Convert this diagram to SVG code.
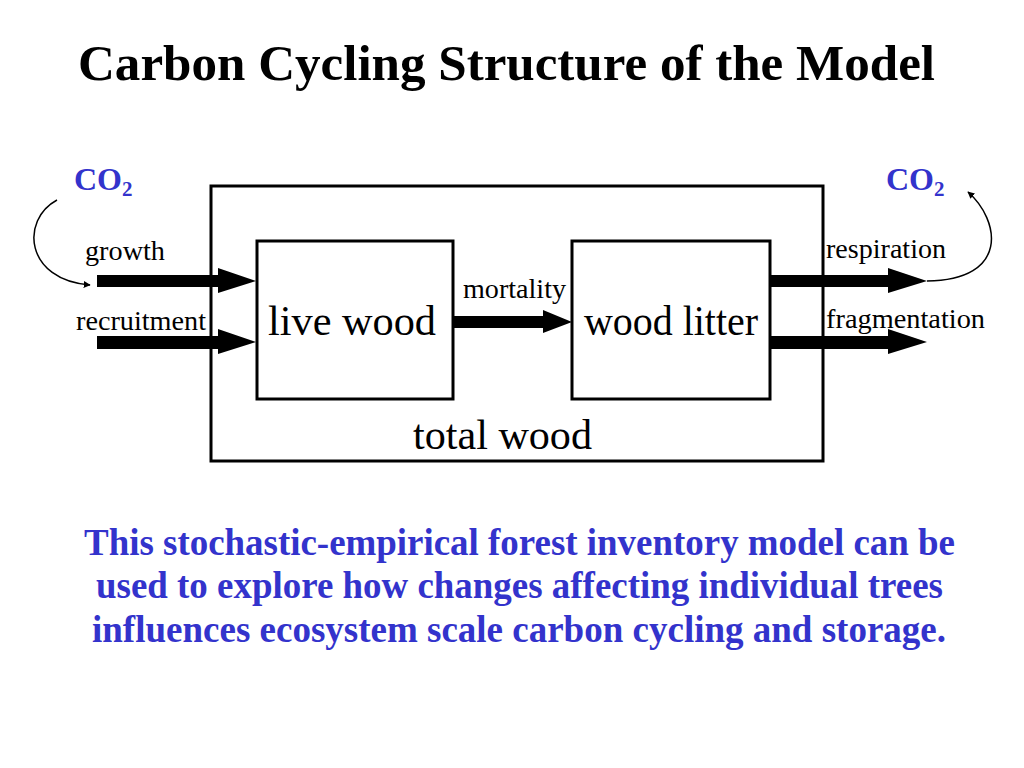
<svg xmlns="http://www.w3.org/2000/svg" width="1024" height="768" viewBox="0 0 1024 768">
<defs>
<style>
text{font-family:'Liberation Serif','Times New Roman',Times,serif}
.t{fill:#000}
.b{font-weight:bold;fill:#3333cc}
.box{fill:none;stroke:#000;stroke-width:3}
.fat{fill:#000;stroke:none}
.thin{fill:none;stroke:#000;stroke-width:1.5}
</style>
<marker id="ah" viewBox="0 0 10 10" refX="9" refY="5" markerWidth="7" markerHeight="7" markerUnits="userSpaceOnUse" orient="auto">
<path d="M0,0 L10,5 L0,10 Z" fill="#000"/>
</marker>
</defs>
<rect width="1024" height="768" fill="#fff"/>
<text class="t" x="78" y="80" font-size="51" font-weight="bold" textLength="857" lengthAdjust="spacingAndGlyphs">Carbon Cycling Structure of the Model</text>

<g id="total-wood">
<rect class="box" x="211" y="186" width="612" height="275"/>
<text class="t" x="413" y="449" font-size="42" textLength="179" lengthAdjust="spacingAndGlyphs">total wood</text>
</g>
<g id="live-wood">
<rect class="box" x="257" y="241" width="196" height="158"/>
<text class="t" x="268" y="335" font-size="42" textLength="168" lengthAdjust="spacingAndGlyphs">live wood</text>
</g>
<g id="wood-litter">
<rect class="box" x="572" y="241" width="198" height="158"/>
<text class="t" x="584" y="335" font-size="42" textLength="174" lengthAdjust="spacingAndGlyphs">wood litter</text>
</g>
<g id="co2-left">
<text class="b" x="74" y="190" font-size="32">CO<tspan font-size="21" dy="6">2</tspan></text>
</g>
<g id="co2-right">
<text class="b" x="886" y="190" font-size="32">CO<tspan font-size="21" dy="6">2</tspan></text>
</g>

<g id="connectors">
<polygon class="fat" points="97,275 218,275 218,268 256,281 218,293 218,287 97,287"/>
<polygon class="fat" points="97,336 218,336 218,329 256,342 218,354 218,349 97,349"/>
<polygon class="fat" points="453,316 543,316 543,310 572,322 543,333 543,328 453,328"/>
<polygon class="fat" points="770,275 888,275 888,268 927,281 888,293 888,287 770,287"/>
<polygon class="fat" points="770,336 888,336 888,329 927,342 888,354 888,349 770,349"/>
<path class="thin" d="M57,200 C20,220 25,280 90,285" marker-end="url(#ah)"/>
<path class="thin" d="M927,281 C1010,280 1000,220 968,192" marker-end="url(#ah)"/>
<text class="t" x="85" y="260" font-size="27" textLength="80" lengthAdjust="spacingAndGlyphs">growth</text>
<text class="t" x="76" y="330" font-size="27" textLength="130" lengthAdjust="spacingAndGlyphs">recruitment</text>
<text class="t" x="463" y="298" font-size="27" textLength="103" lengthAdjust="spacingAndGlyphs">mortality</text>
<text class="t" x="826" y="258" font-size="27" textLength="120" lengthAdjust="spacingAndGlyphs">respiration</text>
<text class="t" x="826" y="328" font-size="27" textLength="159" lengthAdjust="spacingAndGlyphs">fragmentation</text>
</g>

<g id="caption">
<text class="b" x="84" y="555" font-size="37" textLength="871" lengthAdjust="spacingAndGlyphs">This stochastic-empirical forest inventory model can be</text>
<text class="b" x="96" y="598" font-size="37" textLength="847" lengthAdjust="spacingAndGlyphs">used to explore how changes affecting individual trees</text>
<text class="b" x="92" y="642" font-size="37" textLength="854" lengthAdjust="spacingAndGlyphs">influences ecosystem scale carbon cycling and storage.</text>
</g>
</svg>
